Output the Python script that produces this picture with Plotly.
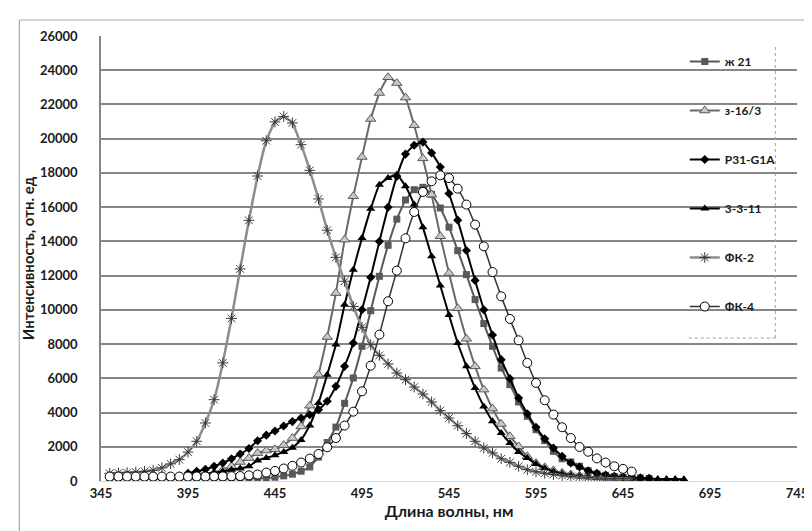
import plotly.graph_objects as go

# ---------------- data ----------------
names = ["ж 21", "з-16/3", "P31-G1A", "3-3-11", "ФК-2", "ФК-4"]

wl_zh21 = list(range(350, 661, 5))
zh21 = [120, 120, 120, 120, 120, 120, 120, 120, 120, 120,
        120, 120, 130, 130, 140, 140, 150, 150, 170, 220,
        300, 400, 570, 820, 1400, 2250, 3150, 4540, 6020, 7870,
        9950, 11960, 13770, 15300, 16420, 17020, 17160, 16750, 15950, 14830,
        13460, 12060, 10600, 9200, 7870, 6600, 5630, 4620, 3780, 3000,
        2360, 1730, 1300, 1110, 860, 600, 410, 330, 260, 220,
        200, 180, 150]

wl_z163 = list(range(400, 651, 5))
z163 = [330, 400, 500, 660, 860, 1110, 1340, 1630, 1780, 1850,
        2100, 2510, 3190, 4400, 6210, 8410, 10980, 14100, 16640, 18930,
        21150, 22670, 23590, 23250, 22400, 20780, 18850, 16730, 14300, 12150,
        10090, 8310, 6700, 5340, 4230, 3330, 2610, 2020, 1440, 1050,
        800, 620, 480, 380, 310, 250, 210, 180, 150, 130,
        120]

wl_p31 = list(range(395, 661, 5))
p31 = [450, 570, 680, 860, 1050, 1300, 1580, 1900, 2350, 2680,
       2920, 3210, 3470, 3680, 3870, 4170, 4660, 5530, 6700, 8060,
       10010, 11900, 14000, 16000, 17800, 19100, 19620, 19800, 19170, 18340,
       16800, 15240, 13470, 11720, 10010, 8530, 7090, 5980, 4850, 3930,
       3140, 2470, 1930, 1440, 1050, 820, 600, 450, 350, 280,
       230, 200, 180, 160]

wl_3311 = list(range(395, 681, 5))
s3311 = [420, 420, 430, 480, 570, 660, 730, 860, 1200, 1350,
         1500, 1700, 1950, 2400, 3250, 4560, 6210, 7970, 10300, 12350,
         14200, 15900, 17310, 17700, 17900, 17220, 16150, 14820, 13130, 11420,
         9700, 8060, 6700, 5430, 4360, 3490, 2800, 2220, 1690, 1340,
         990, 750, 560, 430, 340, 280, 240, 210, 190, 170,
         160, 150, 140, 130, 120, 110, 110, 100]

wl_fk2 = list(range(350, 651, 5))
fk2 = [450, 470, 490, 520, 560, 630, 770, 1000, 1250, 1690,
       2320, 3390, 4750, 6900, 9500, 12390, 15230, 17820, 19880, 20980,
       21300, 20920, 19650, 18150, 16480, 14650, 13070, 11670, 10200, 8980,
       7960, 7340, 6840, 6310, 5920, 5490, 5080, 4620, 4110, 3680,
       3230, 2770, 2320, 1930, 1640, 1300, 1090, 860, 660, 540,
       450, 380, 320, 270, 230, 200, 180, 160, 150, 140,
       130]

wl_fk4 = list(range(350, 651, 5))
fk4 = [260, 260, 260, 260, 260, 260, 260, 260, 260, 260,
       265, 265, 270, 270, 280, 290, 330, 380, 490, 590,
       730, 890, 1080, 1310, 1580, 1970, 2510, 3240, 4050, 5240,
       6740, 8550, 10500, 12290, 14180, 15720, 16890, 17510, 17860, 17700,
       17080, 16150, 14980, 13710, 12210, 10790, 9470, 8220, 6900, 5730,
       4720, 3880, 3140, 2510, 1990, 1710, 1320, 1080, 860, 710,
       550]

x_ticks = [345, 395, 445, 495, 545, 595, 645, 695, 745]
y_ticks = list(range(0, 26001, 2000))

# ---------------- styling ----------------
FONT = "Lato"
TXT = "#1a1a1a"
GRID = "#868686"

series = [
    (wl_zh21, zh21, dict(symbol="square", size=7, color="#595959",
                         line=dict(width=0)), dict(color="#595959", width=2)),
    (wl_z163, z163, dict(symbol="triangle-up", size=9, color="#c8c8c8",
                         line=dict(color="#595959", width=1)), dict(color="#6a6a6a", width=2)),
    (wl_p31, p31, dict(symbol="diamond", size=7, color="#000000",
                       line=dict(width=0)), dict(color="#000000", width=2)),
    (wl_3311, s3311, dict(symbol="triangle-up", size=8, color="#000000",
                          line=dict(width=0)), dict(color="#000000", width=2)),
    (wl_fk2, fk2, dict(symbol="asterisk-open", size=9, color="#3a3a3a",
                       line=dict(color="#3a3a3a", width=1)), dict(color="#8c8c8c", width=2.5)),
    (wl_fk4, fk4, dict(symbol="circle", size=9, color="#ffffff",
                       line=dict(color="#000000", width=1)), dict(color="#333333", width=1.5)),
]

fig = go.Figure()
for i, (xs, ys, mk, ln) in enumerate(series):
    fig.add_trace(go.Scatter(
        x=xs, y=ys, name=names[i], mode="lines+markers",
        marker=mk, line=dict(shape="spline", smoothing=0.4, **ln),
        legendgroup=f"g{i}",
    ))

# pixel -> paper helpers (plot area: x 93..800, y 28..473)
L, R, T, B = 93, 800, 28, 473
def px(x):
    return (x - L) / (R - L)
def py(y):
    return (B - y) / (B - T)

shapes = [
    # white legend area (hides gridlines behind legend)
    dict(type="rect", xref="paper", yref="paper", x0=px(688), x1=px(778),
         y0=py(330), y1=py(38), fillcolor="white", line=dict(width=0), layer="between"),
    # dotted legend border (right and bottom)
    dict(type="line", xref="paper", yref="paper", x0=px(778), x1=px(778),
         y0=py(330), y1=py(38), line=dict(color="#a0a0a0", width=1, dash="dot")),
    dict(type="line", xref="paper", yref="paper", x0=px(690), x1=px(778),
         y0=py(330), y1=py(330), line=dict(color="#a0a0a0", width=1, dash="dot")),
    # outer chart border (four separate lines)
    dict(type="line", xref="paper", yref="paper", x0=px(10), x1=px(10),
         y0=py(525), y1=py(12), line=dict(color="#a8a8a8", width=1.2)),
    dict(type="line", xref="paper", yref="paper", x0=px(10), x1=px(808),
         y0=py(12), y1=py(12), line=dict(color="#a8a8a8", width=1.2)),
    dict(type="line", xref="paper", yref="paper", x0=px(10), x1=px(808),
         y0=py(525), y1=py(525), line=dict(color="#a8a8a8", width=1.2)),
    dict(type="line", xref="paper", yref="paper", x0=px(808), x1=px(808),
         y0=py(525), y1=py(12), line=dict(color="#a8a8a8", width=1.2)),
]

fig.update_layout(
    width=812, height=531,
    margin=dict(l=L, r=812 - R, t=T, b=531 - B),
    paper_bgcolor="white", plot_bgcolor="white",
    font=dict(family=FONT, color=TXT, size=13, weight="bold"),
    showlegend=True,
    legend=dict(x=px(686), y=py(39), xanchor="left", yanchor="top",
                bgcolor="rgba(0,0,0,0)", borderwidth=0,
                font=dict(family=FONT, size=12, color=TXT, weight="bold"),
                tracegroupgap=30, traceorder="grouped", itemwidth=30),
    shapes=shapes,
)

fig.update_xaxes(
    range=[345, 745], tickmode="array", tickvals=x_ticks,
    ticktext=[str(v) for v in x_ticks],
    showgrid=False, zeroline=False, showline=True, linecolor="#d9d9d9", linewidth=1,
    ticks="", ticklabelstandoff=0,
    tickfont=dict(family=FONT, size=13, color=TXT, weight="bold"),
    title=dict(text="Длина волны, нм", standoff=2,
               font=dict(family=FONT, size=16, color=TXT, weight="bold")),
)
fig.update_yaxes(
    range=[0, 26000], tickmode="array", tickvals=y_ticks,
    ticktext=[str(v) for v in y_ticks],
    showgrid=True, gridcolor=GRID, gridwidth=2,
    zeroline=True, zerolinecolor="#d9d9d9", zerolinewidth=1.5,
    showline=True, linecolor=GRID, linewidth=1.5,
    ticks="", ticklabelstandoff=19,
    tickfont=dict(family=FONT, size=13, color=TXT, weight="bold"),
    title=dict(text="Интенсивность, отн. ед", standoff=2,
               font=dict(family=FONT, size=15, color=TXT, weight="bold")),
)

fig.write_html("out.html")
